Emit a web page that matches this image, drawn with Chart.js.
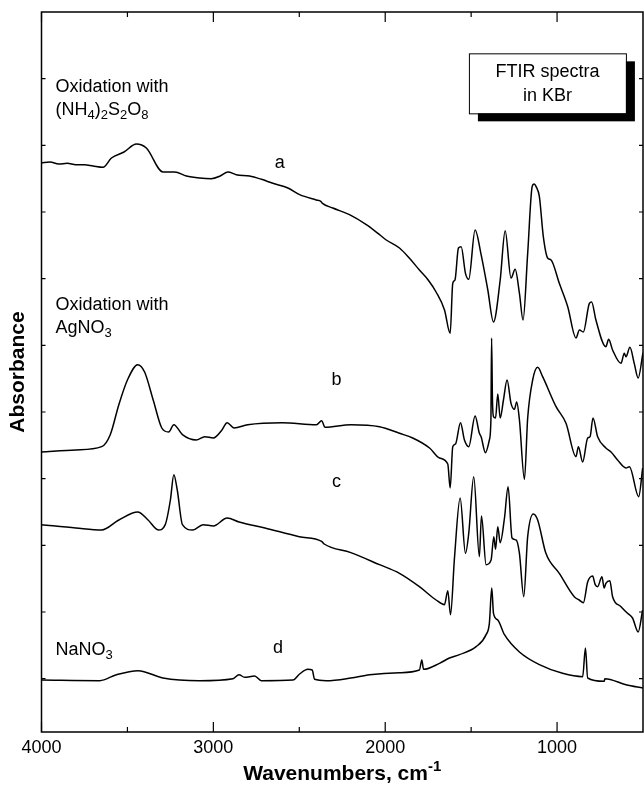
<!DOCTYPE html>
<html>
<head>
<meta charset="utf-8">
<script src="https://cdn.jsdelivr.net/npm/chart.js@4.4.0/dist/chart.umd.min.js"></script>
<style>
  html, body { margin: 0; padding: 0; background: #fff; }
  canvas { display: block; }
</style>
</head>
<body>
<canvas id="ftir-chart" width="644" height="788"></canvas>
<script>
// Wavenumbers (cm-1) and stacked absorbance values (offset, arbitrary units)
const wnA = [4000, 3950, 3900, 3850, 3800, 3750, 3700, 3642, 3593, 3520, 3448, 3390, 3293, 3225, 3157, 3080, 3012, 2960, 2915, 2867, 2789, 2720, 2654, 2566, 2498, 2401, 2375, 2365, 2305, 2208, 2110, 2033, 1994, 1917, 1860, 1801, 1750, 1704, 1655, 1622, 1607, 1594, 1574, 1558, 1533, 1514, 1477, 1442, 1403, 1370, 1331, 1302, 1268, 1244, 1219, 1198, 1171, 1145, 1133, 1122, 1103, 1080, 1055, 1035, 987, 938, 890, 870, 847, 812, 799, 774, 716, 700, 677, 628, 609, 599, 576, 551, 528, 502, 500];
const absA = [7.74, 7.75, 7.72, 7.73, 7.71, 7.71, 7.69, 7.67, 7.81, 7.90, 8.02, 7.96, 7.60, 7.60, 7.54, 7.51, 7.50, 7.54, 7.60, 7.56, 7.54, 7.49, 7.43, 7.36, 7.26, 7.18, 7.16, 7.13, 7.06, 6.96, 6.81, 6.66, 6.58, 6.46, 6.31, 6.13, 5.98, 5.80, 5.53, 5.18, 5.93, 5.98, 6.46, 6.48, 6.08, 5.99, 6.73, 6.36, 5.83, 5.35, 5.98, 6.72, 6.01, 6.14, 5.78, 5.38, 6.38, 7.38, 7.42, 7.38, 7.23, 6.63, 6.31, 6.28, 5.93, 5.58, 5.11, 5.23, 5.20, 5.63, 5.65, 5.38, 4.98, 5.09, 4.93, 4.73, 4.88, 4.83, 4.97, 4.73, 4.51, 4.86, 4.89];

const wnB = [4000, 3800, 3650, 3600, 3550, 3500, 3440, 3400, 3350, 3300, 3260, 3230, 3180, 3100, 3050, 3000, 2950, 2920, 2880, 2800, 2600, 2400, 2370, 2350, 2200, 2033, 1917, 1840, 1742, 1684, 1636, 1622, 1607, 1591, 1562, 1539, 1514, 1477, 1452, 1442, 1417, 1394, 1385, 1381, 1376, 1370, 1358, 1345, 1331, 1312, 1291, 1268, 1248, 1235, 1219, 1190, 1171, 1142, 1113, 1084, 1006, 948, 890, 876, 851, 822, 808, 791, 764, 716, 686, 648, 599, 579, 525, 502];
const absB = [3.40, 3.43, 3.48, 3.66, 4.11, 4.48, 4.71, 4.60, 4.18, 3.76, 3.70, 3.81, 3.66, 3.58, 3.63, 3.61, 3.73, 3.84, 3.76, 3.81, 3.84, 3.81, 3.87, 3.77, 3.81, 3.78, 3.68, 3.61, 3.46, 3.31, 3.22, 2.86, 3.48, 3.52, 3.84, 3.58, 3.48, 3.94, 3.68, 3.63, 3.39, 3.58, 3.88, 5.11, 4.18, 3.93, 3.91, 4.27, 3.91, 4.18, 4.48, 4.13, 4.04, 4.15, 3.88, 2.99, 3.91, 4.48, 4.67, 4.53, 4.08, 3.83, 3.33, 3.48, 3.25, 3.61, 3.63, 3.91, 3.63, 3.46, 3.40, 3.28, 3.16, 3.18, 2.73, 3.16];

const wnC = [4000, 3800, 3650, 3550, 3440, 3380, 3320, 3280, 3250, 3230, 3210, 3180, 3120, 3060, 3000, 2920, 2850, 2700, 2500, 2370, 2355, 2200, 2033, 1917, 1801, 1704, 1655, 1636, 1620, 1597, 1564, 1533, 1514, 1485, 1452, 1440, 1413, 1384, 1368, 1358, 1345, 1331, 1306, 1285, 1262, 1238, 1219, 1194, 1171, 1138, 1113, 1065, 987, 900, 871, 847, 822, 793, 778, 764, 739, 726, 716, 693, 677, 628, 590, 561, 528, 502];
const absC = [2.31, 2.26, 2.23, 2.38, 2.50, 2.38, 2.23, 2.31, 2.68, 3.06, 2.83, 2.31, 2.23, 2.31, 2.29, 2.41, 2.35, 2.26, 2.13, 2.06, 2.02, 1.89, 1.71, 1.58, 1.38, 1.18, 1.11, 1.32, 0.96, 1.81, 2.71, 1.88, 2.18, 3.03, 1.83, 2.44, 1.71, 1.78, 2.13, 1.94, 2.28, 2.04, 2.41, 2.88, 2.11, 2.08, 1.88, 1.23, 2.13, 2.47, 2.38, 1.88, 1.58, 1.23, 1.18, 1.14, 1.45, 1.54, 1.41, 1.38, 1.53, 1.36, 1.43, 1.47, 1.23, 1.08, 0.98, 0.91, 0.70, 1.03];

const wnD = [4000, 3661, 3564, 3438, 3293, 3080, 2886, 2851, 2818, 2760, 2721, 2537, 2498, 2450, 2425, 2411, 2343, 2200, 2091, 1917, 1801, 1787, 1777, 1684, 1626, 1568, 1471, 1413, 1394, 1380, 1370, 1345, 1306, 1219, 1103, 968, 851, 835, 822, 726, 722, 599, 500];
const absD = [-0.02, -0.03, 0.06, 0.12, 0.01, -0.03, 0.00, 0.06, 0.02, 0.04, -0.03, -0.02, 0.07, 0.14, 0.13, -0.01, -0.03, 0.01, 0.06, 0.09, 0.13, 0.28, 0.14, 0.23, 0.31, 0.36, 0.48, 0.66, 0.83, 1.36, 0.98, 0.88, 0.66, 0.40, 0.21, 0.08, 0.03, 0.46, 0.01, -0.04, 0.00, -0.09, -0.14];

// Axis ticks
const xMajorTicks = [4000, 3000, 2000, 1000];
const xTickLabels = ['4000', '3000', '2000', '1000'];
const xMinorTicks = [3500, 2500, 1500];
const yTicks = [0, 1, 2, 3, 4, 5, 6, 7, 8, 9];

const FONT = '"Liberation Sans", Arial, Helvetica, sans-serif';

function toPoints(wn, ab) {
    return wn.map(function(w, i) { return { x: w, y: ab[i] }; });
}

// text with subscript / superscript pieces: [text, shift] (shift 1 = sub, -1 = sup)
function drawRich(ctx, parts, x, y, size, bold, align) {
    const weight = bold ? 'bold ' : '';
    const small = Math.round(size * 0.72);
    let total = 0;
    parts.forEach(function(p) {
        ctx.font = weight + (p[1] ? small : size) + 'px ' + FONT;
        total += ctx.measureText(p[0]).width;
    });
    let cx = x;
    if (align === 'center') cx = x - total / 2;
    ctx.textAlign = 'left';
    ctx.textBaseline = 'middle';
    parts.forEach(function(p) {
        ctx.font = weight + (p[1] ? small : size) + 'px ' + FONT;
        const dy = p[1] === 1 ? size * 0.3 : (p[1] === -1 ? -size * 0.35 : 0);
        ctx.fillText(p[0], cx, y + dy);
        cx += ctx.measureText(p[0]).width;
    });
}

const framePlugin = {
    id: 'frame',
    afterDraw: function(chart) {
        const ctx = chart.ctx;
        const area = chart.chartArea;
        const xs = chart.scales.x;
        const ys = chart.scales.y;
        ctx.save();
        ctx.strokeStyle = '#000';
        ctx.fillStyle = '#000';

        // frame
        ctx.lineWidth = 1.5;
        ctx.strokeRect(area.left, area.top, area.right - area.left, area.bottom - area.top);

        // x ticks, inward on bottom and top
        ctx.lineWidth = 1.2;
        ctx.beginPath();
        xMajorTicks.concat(xMinorTicks).forEach(function(v) {
            const px = xs.getPixelForValue(v);
            const len = xMajorTicks.indexOf(v) >= 0 ? 10 : 5;
            ctx.moveTo(px, area.bottom);
            ctx.lineTo(px, area.bottom - len);
            ctx.moveTo(px, area.top);
            ctx.lineTo(px, area.top + len);
        });
        // y ticks, inward on left and right
        yTicks.forEach(function(v) {
            const py = ys.getPixelForValue(v);
            ctx.moveTo(area.left, py);
            ctx.lineTo(area.left + 4, py);
            ctx.moveTo(area.right, py);
            ctx.lineTo(area.right - 4, py);
        });
        ctx.stroke();

        // x tick labels
        ctx.font = '18px ' + FONT;
        ctx.textAlign = 'center';
        ctx.textBaseline = 'middle';
        xMajorTicks.forEach(function(v, i) {
            ctx.fillText(xTickLabels[i], xs.getPixelForValue(v), area.bottom + 16);
        });

        // axis titles
        drawRich(ctx, [['Wavenumbers, cm', 0], ['-1', -1]], (area.left + area.right) / 2, area.bottom + 42, 21, true, 'center');
        ctx.save();
        ctx.translate(18, (area.top + area.bottom) / 2);
        ctx.rotate(-Math.PI / 2);
        ctx.font = 'bold 21px ' + FONT;
        ctx.textAlign = 'center';
        ctx.textBaseline = 'middle';
        ctx.fillText('Absorbance', 0, 0);
        ctx.restore();

        // curve annotations
        const lx = area.left + 14;
        function at(v) { return ys.getPixelForValue(v); }
        drawRich(ctx, [['Oxidation with', 0]], lx, at(8.875), 18, false);
        drawRich(ctx, [['(NH', 0], ['4', 1], [')', 0], ['2', 1], ['S', 0], ['2', 1], ['O', 0], ['8', 1]], lx, at(8.53), 18, false);
        drawRich(ctx, [['Oxidation with', 0]], lx, at(5.6), 18, false);
        drawRich(ctx, [['AgNO', 0], ['3', 1]], lx, at(5.26), 18, false);
        drawRich(ctx, [['NaNO', 0], ['3', 1]], lx, at(0.43), 18, false);
        drawRich(ctx, [['a', 0]], xs.getPixelForValue(2614), at(7.74), 18, false, 'center');
        drawRich(ctx, [['b', 0]], xs.getPixelForValue(2283), at(4.48), 18, false, 'center');
        drawRich(ctx, [['c', 0]], xs.getPixelForValue(2283), at(2.95), 18, false, 'center');
        drawRich(ctx, [['d', 0]], xs.getPixelForValue(2624), at(0.46), 18, false, 'center');

        // boxed caption with drop shadow
        const bx = xs.getPixelForValue(1513), by = ys.getPixelForValue(9.38);
        const bw = 157, bh = 60;
        ctx.fillRect(bx + 9, by + 8, bw, bh);
        ctx.fillStyle = '#fff';
        ctx.fillRect(bx, by, bw, bh);
        ctx.lineWidth = 1;
        ctx.strokeRect(bx + 0.5, by + 0.5, bw, bh);
        ctx.fillStyle = '#000';
        ctx.font = '18px ' + FONT;
        ctx.textAlign = 'center';
        ctx.fillText('FTIR spectra', bx + bw / 2, by + 19);
        ctx.fillText('in KBr', bx + bw / 2, by + 43);
        ctx.restore();
    }
};

function lineSet(wn, ab) {
    return {
        data: toPoints(wn, ab),
        borderColor: '#000',
        borderWidth: 1.5,
        pointRadius: 0,
        fill: false,
        cubicInterpolationMode: 'monotone',
        borderJoinStyle: 'round'
    };
}

const ctx = document.getElementById('ftir-chart');
new Chart(ctx, {
    type: 'line',
    data: {
        datasets: [lineSet(wnA, absA), lineSet(wnB, absB), lineSet(wnC, absC), lineSet(wnD, absD)]
    },
    options: {
        responsive: false,
        animation: false,
        layout: { padding: { left: 41.5, right: 1, top: 12, bottom: 56 } },
        plugins: {
            legend: { display: false },
            tooltip: { enabled: false }
        },
        scales: {
            x: { type: 'linear', min: 500, max: 4000, reverse: true, display: false },
            y: { type: 'linear', min: -0.8, max: 10, display: false }
        }
    },
    plugins: [framePlugin]
});
</script>
</body>
</html>
